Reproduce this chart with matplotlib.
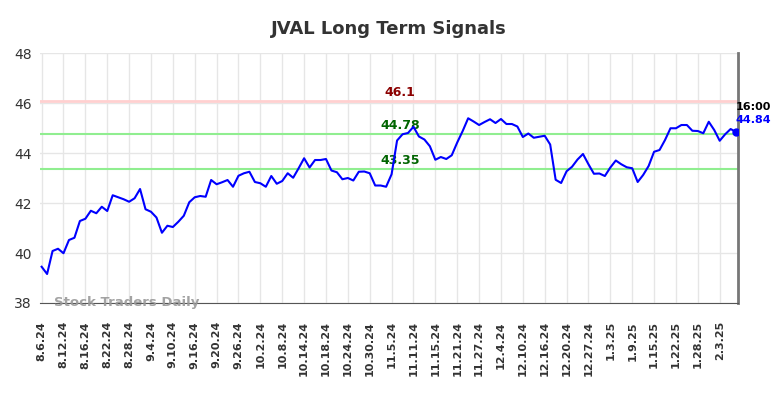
import matplotlib
matplotlib.use('Agg')
import matplotlib.pyplot as plt
import numpy as np

# ---- data (one value per trading day, 8.6.24 .. 2.6.25)
prices = [
    39.45, 39.16, 40.08, 40.17, 39.99, 40.52, 40.61, 41.28, 41.37, 41.69,
    41.59, 41.85, 41.68, 42.31, 42.23, 42.15, 42.05, 42.19, 42.56, 41.75,
    41.65, 41.42, 40.81, 41.09, 41.04, 41.25, 41.49, 42.03, 42.23, 42.28,
    42.25, 42.92, 42.75, 42.83, 42.92, 42.65, 43.09, 43.19, 43.25, 42.84,
    42.79, 42.65, 43.08, 42.77, 42.88, 43.19, 43.01, 43.39, 43.79, 43.42,
    43.72, 43.72, 43.76, 43.30, 43.23, 42.95, 43.00, 42.90, 43.25, 43.26,
    43.19, 42.70, 42.70, 42.65, 43.15, 44.50, 44.75, 44.80, 45.05, 44.66,
    44.54, 44.27, 43.73, 43.84, 43.76, 43.91, 44.42, 44.88, 45.39, 45.26,
    45.12, 45.24, 45.35, 45.20, 45.36, 45.16, 45.16, 45.06, 44.64, 44.78,
    44.61, 44.65, 44.69, 44.34, 42.93, 42.80, 43.27, 43.45, 43.74, 43.96,
    43.55, 43.17, 43.18, 43.08, 43.42, 43.70, 43.55, 43.43, 43.39, 42.84,
    43.12, 43.48, 44.05, 44.12, 44.52, 44.99, 44.99, 45.12, 45.12, 44.89,
    44.88, 44.79, 45.25, 44.92, 44.49, 44.75, 44.96, 44.84,
]
tick_labels = [
    '8.6.24', '8.12.24', '8.16.24', '8.22.24', '8.28.24', '9.4.24', '9.10.24',
    '9.16.24', '9.20.24', '9.26.24', '10.2.24', '10.8.24', '10.14.24',
    '10.18.24', '10.24.24', '10.30.24', '11.5.24', '11.11.24', '11.15.24',
    '11.21.24', '11.27.24', '12.4.24', '12.10.24', '12.16.24', '12.20.24',
    '12.27.24', '1.3.25', '1.9.25', '1.15.25', '1.22.25', '1.28.25', '2.3.25',
]
tick_step = 4
resistance = 46.1
support_levels = [44.78, 43.35]
last_time = '16:00'

x = np.arange(len(prices))
last_price = prices[-1]

fig = plt.figure(figsize=(7.84, 3.98), dpi=100)
ax = fig.add_axes([0.051, 0.2387, 0.890, 0.6281])

# ---- grid
ax.set_xticks(x[::tick_step][:len(tick_labels)])
ax.set_xticklabels(tick_labels, rotation=90, fontsize=8, fontweight='bold',
                   color='#333333')
ax.set_yticks(np.arange(38, 49, 2))
ax.tick_params(axis='y', labelsize=10, colors='#333333', length=0, pad=6)
ax.tick_params(axis='x', length=0, pad=13)
ax.grid(color='#e6e6e6', linewidth=1)
ax.set_axisbelow(True)

for side in ['left', 'top']:
    ax.spines[side].set_visible(False)
ax.spines['bottom'].set_color('#555555')
ax.spines['right'].set_color('#777777')
ax.spines['right'].set_linewidth(2)

# ---- signal levels
mid = 65.5
ax.axhline(resistance, color='#ffd0d0', linewidth=2, zorder=2)
ax.text(mid, resistance + 0.08, f'{resistance:g}', color='#8b0000',
        fontsize=9, fontweight='bold', ha='center', va='bottom')
for lvl in support_levels:
    ax.axhline(lvl, color='#90ee90', linewidth=1.5, zorder=2)
    ax.text(mid, lvl + 0.08, f'{lvl:.2f}', color='#006400',
            fontsize=9, fontweight='bold', ha='center', va='bottom')

# ---- price
ax.plot(x, prices, color='#0000ff', linewidth=1.5, zorder=3)
ax.plot(x[-1], last_price, 'o', color='#0000ff', markersize=5, zorder=4)
ax.text(x[-1] - 0.1, last_price + 0.82, last_time, color='black',
        fontsize=8, fontweight='bold', ha='left', va='bottom')
ax.text(x[-1] - 0.1, last_price + 0.27, f'{last_price:.2f}', color='#0000ff',
        fontsize=8, fontweight='bold', ha='left', va='bottom')

ax.text(2.2, 38.0, 'Stock Traders Daily', color='#999999', fontsize=9.5,
        fontweight='bold', ha='left', va='center', alpha=0.9)

ax.set_xlim(-0.3, 127.3)
ax.set_ylim(38, 48)
ax.set_title('JVAL Long Term Signals', fontsize=13, fontweight='bold',
             color='#333333', pad=14)

fig.savefig('out.png', dpi=100)
plt.close()
